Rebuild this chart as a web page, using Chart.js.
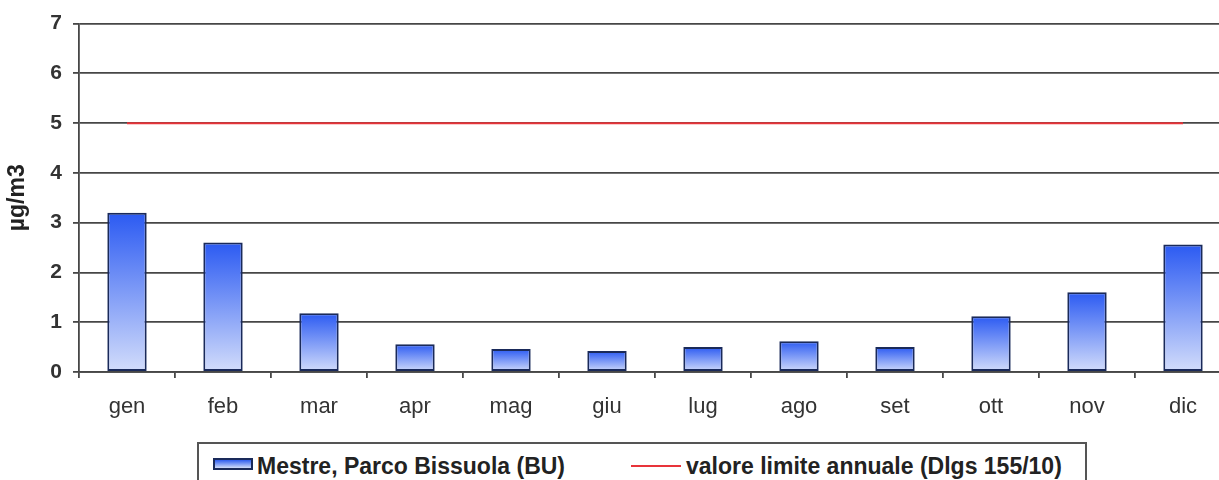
<!DOCTYPE html>
<html>
<head>
<meta charset="utf-8">
<script src="https://cdn.jsdelivr.net/npm/chart.js@4/dist/chart.umd.min.js"></script>
<style>
  html, body { margin: 0; padding: 0; background: #fff; overflow: hidden; width: 1219px; height: 480px; }
  #wrap { position: absolute; left: 0; top: 0; width: 1240px; height: 430px; }
  #legend {
    position: absolute; left: 197px; top: 442px; width: 890px; height: 60px;
    border: 2px solid #555; box-sizing: border-box;
    font: bold 23px "Liberation Sans", Arial, sans-serif; color: #222;
  }
  #legend .item { position: absolute; top: 9px; white-space: nowrap; line-height: 26px; }
  #legend .patch {
    position: absolute; left: 14px; top: 14px; width: 40px; height: 12px;
    border: 2px solid #1a2a5a; box-sizing: border-box;
    background: linear-gradient(#2d5cf0, #d0dcfa);
  }
  #legend .redline { position: absolute; left: 432px; top: 21px; width: 50px; height: 2px; background: #e8343a; }
</style>
</head>
<body>
<div id="wrap"><canvas id="chart" width="1240" height="430"></canvas></div>
<div id="legend">
  <div class="patch"></div>
  <div class="item" style="left:58px">Mestre, Parco Bissuola (BU)</div>
  <div class="redline"></div>
  <div class="item" style="left:487px">valore limite annuale (Dlgs 155/10)</div>
</div>
<script>
// Monthly mean concentrations
const months = ['gen', 'feb', 'mar', 'apr', 'mag', 'giu', 'lug', 'ago', 'set', 'ott', 'nov', 'dic'];
const bissuola = [3.2, 2.6, 1.18, 0.56, 0.46, 0.42, 0.5, 0.62, 0.5, 1.12, 1.6, 2.56];
const limite = [5, 5, 5, 5, 5, 5, 5, 5, 5, 5, 5, 5];

// vertical gradient, bright blue at the top of each bar fading to pale at the base
function barGradient(context) {
    const chart = context.chart;
    const { ctx, chartArea, scales } = chart;
    if (!chartArea) return '#6a8cf0';
    const top = scales.y.getPixelForValue(context.raw);
    const bottom = scales.y.getPixelForValue(0);
    const g = ctx.createLinearGradient(0, top, 0, bottom);
    g.addColorStop(0, '#2b5af2');
    g.addColorStop(1, '#d3ddfb');
    return g;
}

const axisColor = '#474747';
const font = '"Liberation Sans", Arial';

const config = {
    data: {
        labels: months,
        datasets: [
            {
                type: 'line',
                label: 'valore limite annuale (Dlgs 155/10)',
                data: limite,
                borderColor: '#e8343a',
                borderWidth: 2,
                pointRadius: 0,
                order: 0
            },
            {
                type: 'bar',
                label: 'Mestre, Parco Bissuola (BU)',
                data: bissuola,
                backgroundColor: barGradient,
                borderColor: '#1a2a5a',
                borderWidth: 2,
                borderSkipped: false,
                categoryPercentage: 1,
                barPercentage: 0.41,
                order: 1
            }
        ]
    },
    options: {
        responsive: false,
        animation: false,
        layout: { padding: { top: 16, right: 9, left: 0, bottom: 0 } },
        plugins: {
            legend: { display: false },
            tooltip: { enabled: false }
        },
        scales: {
            x: {
                offset: true,
                afterFit: (s) => { s.height = 58; },
                grid: {
                    offset: true,
                    drawOnChartArea: false,
                    color: axisColor,
                    lineWidth: 1.8,
                    tickLength: 6
                },
                border: { color: axisColor, width: 1.8 },
                ticks: {
                    color: '#333',
                    padding: 16,
                    font: { family: font, size: 22 }
                }
            },
            y: {
                min: 0,
                max: 7,
                afterFit: (s) => { s.width = 79; },
                grid: {
                    color: axisColor,
                    lineWidth: 1.8,
                    tickLength: 6
                },
                border: { color: axisColor, width: 1.8 },
                ticks: {
                    stepSize: 1,
                    color: '#333',
                    padding: 11,
                    font: { family: font, size: 21, weight: 'bold' }
                },
                title: {
                    display: true,
                    text: 'µg/m3',
                    color: '#222',
                    padding: { top: 4, bottom: 0 },
                    font: { family: font, size: 23, weight: 'bold' }
                }
            }
        }
    }
};

const chart = new Chart(document.getElementById('chart'), config);
</script>
</body>
</html>
